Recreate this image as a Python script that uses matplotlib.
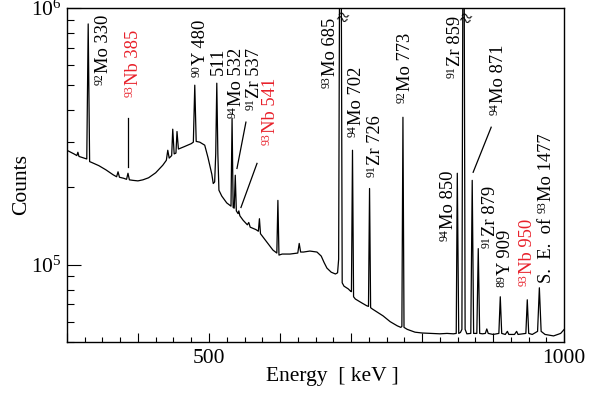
import numpy as np
import matplotlib
matplotlib.use('Agg')
import matplotlib.pyplot as plt
from matplotlib.ticker import NullFormatter
from matplotlib.transforms import offset_copy

plt.rcParams['font.family'] = ['Liberation Serif', 'DejaVu Serif']
plt.rcParams['mathtext.fontset'] = 'custom'
plt.rcParams['mathtext.rm'] = 'Liberation Serif'
plt.rcParams['mathtext.it'] = 'Liberation Serif:italic'

# spectrum trace (keV, counts); peaks as base/top/base
energy_kev = [300, 310, 314, 315.5, 317, 324, 328, 330, 332, 335, 345, 355, 365,
              370, 372, 374, 380, 384, 386, 388, 393, 400, 407, 415, 425, 435,
              440, 442, 444, 447.5, 449, 451, 453.5, 455, 457, 465, 475, 478, 480,
              482, 487, 494, 498.5, 504, 506, 508, 509.5, 511, 512.5, 514, 518,
              525, 531, 532.5, 534, 535.5, 537, 538.5, 541, 542, 543.5, 548, 554,
              556, 558, 566, 569.5, 571, 572.5, 582, 590, 595.5, 597, 598.5, 603,
              614, 625, 627, 629, 633, 642, 652, 658, 662, 666, 672, 678, 681,
              682.5, 684, 686, 687.5, 690, 696, 699, 700.5, 702, 703.5, 706, 715,
              722, 724.5, 726, 727.5, 730, 745, 755, 765, 770, 771.5, 773, 774.5,
              779, 790, 800, 825, 835, 844, 848, 849.5, 851.5, 854, 856, 857.5,
              859, 860.5, 863, 868.5, 870.5, 872.5, 877, 879, 881, 885, 889, 891,
              893, 900, 908, 910, 912, 917, 920, 922, 930, 933, 935, 946, 948,
              950, 955, 962.5, 965, 967.5, 973, 985, 995, 1000]
counts = [2.79e5, 2.70e5, 2.66e5, 2.74e5, 2.64e5, 2.60e5, 2.58e5, 8.66e5, 2.52e5,
          2.50e5, 2.43e5, 2.34e5, 2.24e5, 2.20e5, 2.30e5, 2.19e5, 2.17e5, 2.15e5,
          2.27e5, 2.14e5, 2.13e5, 2.12e5, 2.14e5, 2.18e5, 2.28e5, 2.44e5, 2.55e5,
          2.79e5, 2.60e5, 2.66e5, 3.37e5, 2.70e5, 2.72e5, 3.30e5, 2.82e5, 2.88e5,
          2.96e5, 3.0e5, 5.0e5, 3.02e5, 3.0e5, 2.92e5, 2.62e5, 2.25e5, 2.07e5,
          2.10e5, 2.7e5, 5.09e5, 2.7e5, 1.95e5, 1.85e5, 1.74e5, 1.69e5, 3.72e5,
          1.67e5, 1.66e5, 2.23e5, 1.62e5, 1.58e5, 1.62e5, 1.55e5, 1.49e5, 1.43e5,
          1.46e5, 1.40e5, 1.37e5, 1.35e5, 1.51e5, 1.32e5, 1.22e5, 1.14e5, 1.11e5,
          1.78e5, 1.09e5, 1.10e5, 1.10e5, 1.11e5, 1.21e5, 1.12e5, 1.12e5, 1.13e5,
          1.12e5, 1.08e5, 1.02e5, 9.7e4, 9.35e4, 9.2e4, 9.3e4, 1.05e5, 2e6, 2e6,
          8.5e4, 8.25e4, 8.05e4, 7.9e4, 7.85e4, 2.79e5, 7.5e4, 7.35e4, 7.1e4,
          6.92e4, 6.88e4, 1.98e5, 6.8e4, 6.72e4, 6.32e4, 6.0e4, 5.78e4, 5.7e4,
          5.75e4, 3.75e5, 5.7e4, 5.6e4, 5.46e4, 5.42e4, 5.38e4, 5.4e4, 5.38e4,
          5.4e4, 2.27e5, 5.4e4, 5.45e4, 5.6e4, 2e6, 2e6, 5.6e4, 5.38e4, 5.4e4,
          2.13e5, 5.4e4, 5.4e4, 1.155e5, 5.4e4, 5.38e4, 5.4e4, 5.62e4, 5.4e4,
          5.35e4, 5.4e4, 7.5e4, 5.4e4, 5.35e4, 5.5e4, 5.35e4, 5.35e4, 5.5e4,
          5.35e4, 5.4e4, 7.3e4, 5.4e4, 5.35e4, 5.5e4, 8.13e4, 5.5e4, 5.35e4,
          5.28e4, 5.4e4, 5.6e4]

# peak labels: text before the mass number, mass number, text after it
label_pre = ['', '', '', '', '', '', '', '', '', '', '', '', '', '', '', '', '',
             'S.  E.  of']
label_mass = ['92', '93', '90', '', '94', '91', '93', '93', '94', '91', '92', '94',
              '91', '94', '91', '89', '93', '93']
label_rest = ['Mo 330', 'Nb 385', 'Y 480', '511', 'Mo 532', 'Zr 537', 'Nb 541',
              'Mo 685', 'Mo 702', 'Zr 726', 'Mo 773', 'Mo 850', 'Zr 859', 'Mo 871',
              'Zr 879', 'Y 909', 'Nb 950', 'Mo 1477']
label_red = [False, True, False, False, False, False, True, False, False, False,
             False, False, False, False, False, False, True, False]
# label anchors: baseline energy, start counts
label_pos = [(357.5, 5.0e5), (399.7, 4.49e5), (494, 5.38e5), (519, 5.47e5),
             (544.8, 3.72e5), (570, 4.0e5), (592.7, 2.92e5), (677, 4.87e5),
             (713.8, 3.13e5), (740.6, 2.19e5), (782.8, 4.26e5), (843.4, 1.24e5),
             (853.3, 5.33e5), (913.8, 3.82e5), (902.5, 1.165e5), (923.7, 8.2e4),
             (954.7, 8.28e4), (981.4, 8.5e4)]
leaders = [((385.9, 385.9), (3.72e5, 2.41e5)),
           ((552, 539.4), (3.59e5, 2.37e5)),
           ((567.6, 545), (2.48e5, 1.67e5)),
           ((897.2, 871.8), (3.43e5, 2.29e5))]

xtick_vals = [300, 400, 500, 600, 700, 800, 900, 1000]
xtick_text = ['', '', '500', '', '', '', '', '1000']

fig = plt.figure(figsize=(6.08, 3.94), dpi=100)
ax = fig.add_axes([0.110, 0.132, 0.818, 0.848])
renderer = fig.canvas.get_renderer()

ax.plot(energy_kev, counts, color='k', lw=0.9)
for (xs, ys) in leaders:
    ax.plot(xs, ys, color='k', lw=0.9)

main_fs = 13.3
sup_fs = 8.5


def put(x, y, s, fs, dx, dy, c):
    tr = offset_copy(ax.transData, fig=fig, x=dx, y=dy, units='points')
    t = ax.text(x, y, s, rotation=90, rotation_mode='anchor', ha='left',
                va='baseline', fontsize=fs, color=c, transform=tr)
    return t.get_window_extent(renderer).height * 72.0 / fig.dpi


for pre, m, rest, red, (x, y) in zip(label_pre, label_mass, label_rest,
                                      label_red, label_pos):
    c = '#e8202a' if red else 'k'
    pos = 0.0
    if pre:
        pos += put(x, y, pre, main_fs, 0, pos, c) + 3.5
    if m:
        pos += put(x, y, m, sup_fs, -4.0, pos, c) + 0.2
    put(x, y, rest, main_fs, 0, pos, c)

# axis break marks on the off-scale peaks
ax.text(686, 9.0e5, '≈', ha='center', va='center', fontsize=15, rotation=-20)
ax.text(859.5, 8.9e5, '≈', ha='center', va='center', fontsize=15, rotation=-20)

ax.set_yscale('log')
ax.set_xlim(300, 1000)
ax.set_ylim(5e4, 1e6)

ax.set_xticks(xtick_vals)
ax.set_xticklabels(xtick_text)
ax.set_xticks(np.arange(300, 1001, 25), minor=True)
ax.yaxis.set_minor_formatter(NullFormatter())

ax.tick_params(which='both', direction='in', top=False, right=False, labelsize=15.5)
ax.tick_params(axis='x', which='major', length=6.5, width=0.8, pad=5)
ax.tick_params(axis='x', which='minor', length=3.5, width=0.8)
ax.tick_params(axis='y', which='major', length=10, width=0.8, pad=4)
ax.tick_params(axis='y', which='minor', length=5, width=0.8)
for sp in ax.spines.values():
    sp.set_linewidth(1.0)

ax.set_xlabel('Energy  [ keV ]', fontsize=15.5)
ax.xaxis.set_label_coords(0.533, -0.075)
ax.set_ylabel('Counts', fontsize=15.5)
ax.yaxis.set_label_coords(-0.072, 0.47)

fig.savefig('out.png', dpi=100)
